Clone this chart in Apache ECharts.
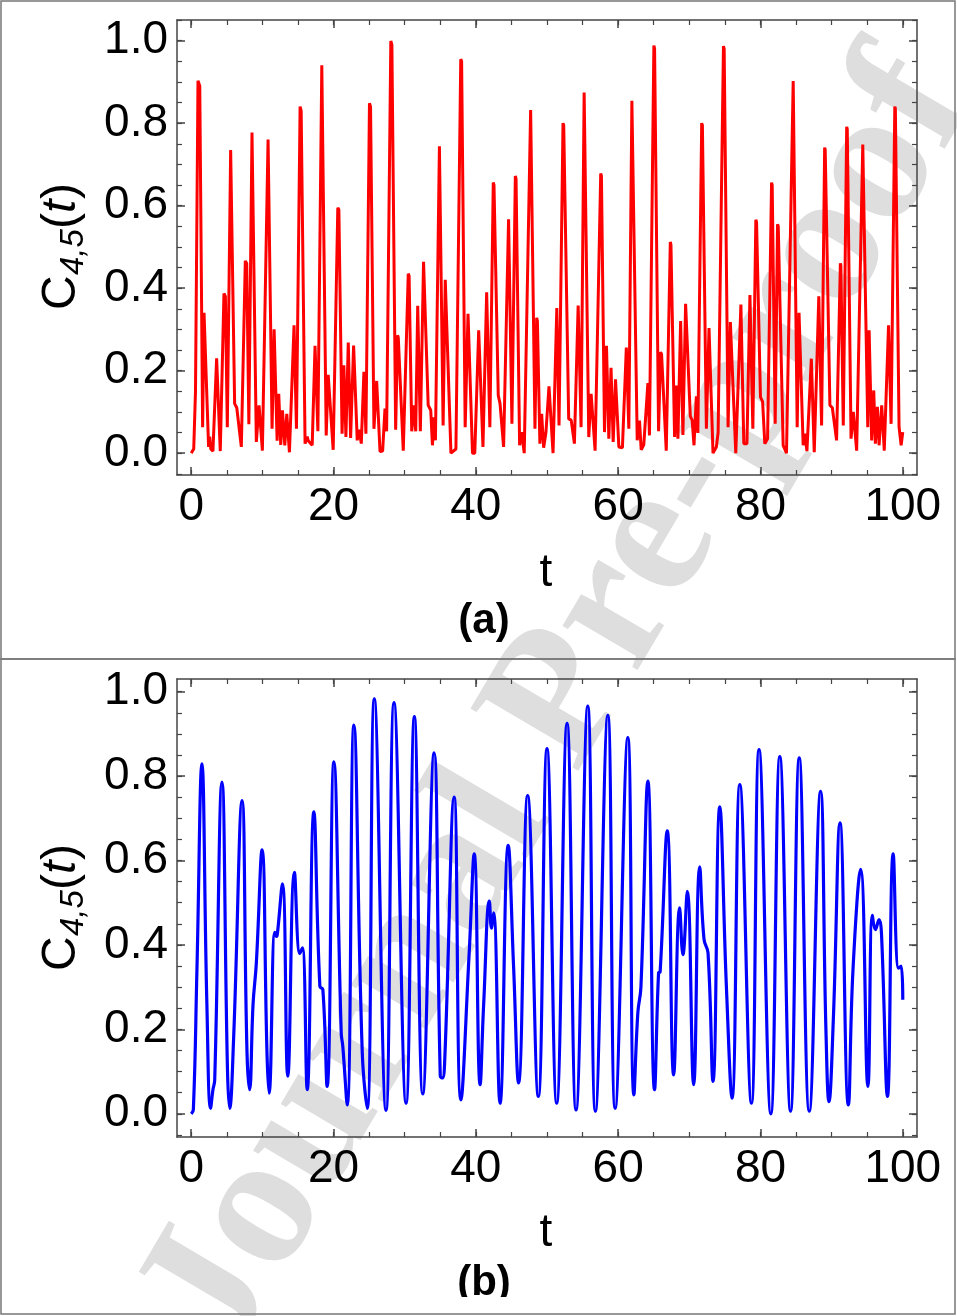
<!DOCTYPE html>
<html><head><meta charset="utf-8">
<script src="https://cdn.jsdelivr.net/npm/echarts@6.0.0/dist/echarts.min.js"></script>
<style>html,body{margin:0;padding:0;background:#fff}#c{width:957px;height:1316px}</style>
</head><body><div id="c"></div><script>
// ---- data ----
const redT = [0,0.35,0.6,0.95,1.2,1.6,1.8,1.95,2.44,2.6,2.75,3.05,3.57,4.08,4.6,4.8,5.07,5.54,6.1,6.4,7.04,7.6,7.8,8.1,8.54,9.15,9.53,10.0,10.8,10.95,11.36,11.65,11.75,12.07,12.3,12.58,12.82,13.15,13.43,13.8,14.45,14.6,14.79,15.3,15.45,16.0,16.3,16.45,17.0,17.4,17.55,17.8,18.35,18.5,18.97,19.25,19.35,19.95,20.6,20.75,21.2,21.45,21.74,22.07,22.4,22.82,23.33,23.6,23.9,24.27,24.55,25.05,25.2,25.68,26.06,26.53,26.9,27.23,27.46,28.05,28.2,28.73,29.0,29.1,29.8,30.5,30.62,30.99,31.3,31.55,31.83,32.2,32.65,32.8,33.3,33.66,33.9,34.13,34.32,34.88,35.0,35.4,35.7,35.8,36.5,37.2,37.88,38.0,38.5,38.9,39.53,39.85,40.4,40.5,41.0,41.2,41.52,41.6,41.97,42.45,42.55,43.15,43.4,43.9,44.6,44.7,45.07,45.55,45.65,46.15,46.43,46.8,47.7,47.8,48.31,48.55,48.65,49.0,49.25,49.53,49.85,50.28,50.85,51.38,51.45,51.69,52.25,52.35,53.05,53.4,53.85,54.38,54.45,54.79,55.22,55.32,55.87,56.2,56.76,57.55,57.65,58.08,58.36,58.69,59.0,59.3,59.63,60.1,60.6,61.15,61.2,61.5,61.93,62.02,62.68,63.0,63.24,63.6,64.18,64.4,65.02,65.12,65.68,65.96,66.1,66.76,67.33,67.42,67.93,68.17,68.4,68.78,69.1,69.48,69.55,70.14,70.4,70.66,70.99,71.2,71.74,71.84,72.4,72.77,73.33,73.8,74.05,74.8,74.9,75.45,75.77,76.53,77.25,77.32,77.66,78.1,78.52,78.6,78.93,79.35,79.45,80.0,80.3,80.61,81.0,81.56,81.65,82.07,82.4,82.5,83.19,83.66,84.6,84.7,85.16,85.42,85.5,86.0,86.24,86.53,87.15,87.22,87.56,88.2,88.25,88.59,89.02,89.1,89.76,90.1,90.7,91.23,91.3,91.64,92.12,92.2,92.73,93.05,93.52,94.38,94.46,95.08,95.27,95.63,95.92,96.15,96.43,96.67,97.04,97.4,98.0,98.06,98.36,98.88,98.96,99.48,99.77,100.0];
const redC = [0,0.01,0.15,0.903,0.89,0.063,0.34,0.34,0.015,0.04,0.01,0.005,0.23,0.005,0.387,0.38,0.063,0.735,0.12,0.11,0.015,0.466,0.46,0.07,0.777,0.027,0.116,0.006,0.76,0.76,0.059,0.30,0.30,0.03,0.144,0.02,0.104,0.019,0.095,0.002,0.31,0.31,0.059,0.84,0.83,0.023,0.04,0.03,0.019,0.26,0.26,0.053,0.94,0.94,0.043,0.19,0.19,0.008,0.595,0.59,0.047,0.213,0.039,0.268,0.037,0.261,0.031,0.057,0.023,0.197,0.047,0.848,0.84,0.059,0.175,0.004,0.005,0.108,0.053,0.999,0.99,0.057,0.286,0.28,0.006,0.435,0.43,0.053,0.116,0.053,0.357,0.053,0.464,0.46,0.116,0.104,0.019,0.087,0.031,0.744,0.74,0.067,0.42,0.42,0.0,0.01,0.955,0.95,0.063,0.338,0.0,0.0,0.298,0.298,0.015,0.015,0.39,0.39,0.063,0.656,0.65,0.14,0.12,0.015,0.567,0.565,0.071,0.672,0.665,0.019,0.051,0.0,0.832,0.83,0.059,0.328,0.32,0.023,0.095,0.013,0.05,0.162,0.0,0.352,0.35,0.067,0.80,0.795,0.083,0.08,0.023,0.358,0.355,0.063,0.874,0.87,0.039,0.144,0.006,0.678,0.672,0.051,0.26,0.035,0.207,0.027,0.179,0.015,0.013,0.256,0.256,0.059,0.854,0.85,0.031,0.079,0.008,0.02,0.17,0.043,0.988,0.98,0.053,0.245,0.24,0.006,0.512,0.505,0.039,0.164,0.035,0.32,0.044,0.362,0.36,0.089,0.08,0.019,0.138,0.049,0.80,0.795,0.059,0.303,0.0,0.015,0.05,0.987,0.98,0.063,0.318,0.0,0.36,0.36,0.023,0.023,0.383,0.38,0.059,0.566,0.56,0.136,0.125,0.023,0.035,0.656,0.65,0.071,0.555,0.55,0.019,0.0,0.902,0.9,0.063,0.34,0.34,0.019,0.047,0.005,0.229,0.229,0.002,0.38,0.38,0.067,0.741,0.735,0.116,0.11,0.031,0.46,0.455,0.067,0.791,0.785,0.035,0.1,0.006,0.748,0.745,0.063,0.298,0.031,0.152,0.023,0.112,0.019,0.116,0.006,0.31,0.31,0.071,0.84,0.835,0.063,0.019,0.051];
const blueT = [0,0.3,0.8,1.5,2.2,2.72,3.05,3.3,4.32,5.1,5.4,5.96,7.14,7.84,8.2,8.69,9.15,9.95,10.66,10.94,11.74,11.97,12.1,12.82,13.57,14.5,15.26,15.63,16.3,17.23,18.08,18.5,19.1,20.05,21.08,21.3,21.92,22.86,24.04,24.74,25.73,27.37,28.5,30.19,31.36,32.54,34.13,35.0,35.3,35.63,36.95,37.9,39.06,39.77,40.6,41.1,41.9,42.2,42.5,43.4,44.55,45.3,46.0,47.28,48.78,50.0,51.36,52.82,54.08,55.73,56.8,58.55,59.58,61.36,62.21,62.77,63.2,64.18,65.11,65.68,65.9,66.9,67.8,68.64,69.1,69.72,70.61,71.46,72.07,72.63,73.33,74.28,75.21,76.0,77.1,78.73,79.8,81.46,82.72,84.23,85.45,86.86,88.45,89.2,89.63,90.24,91.18,92.35,93.0,94.08,95.1,95.73,96.15,96.67,97.0,97.85,98.65,99.4,99.77,100];
const blueC = [0,0.01,0.34,0.829,0.26,0.013,0.057,0.08,0.786,0.10,0.013,0.18,0.742,0.144,0.057,0.26,0.357,0.625,0.136,0.049,0.43,0.42,0.425,0.545,0.089,0.572,0.38,0.393,0.057,0.715,0.302,0.294,0.065,0.834,0.191,0.16,0.021,0.921,0.144,0.013,0.983,0.008,0.974,0.025,0.941,0.047,0.855,0.089,0.085,0.128,0.75,0.033,0.38,0.616,0.069,0.26,0.504,0.44,0.476,0.025,0.636,0.35,0.073,0.754,0.041,0.865,0.025,0.925,0.009,0.966,0.006,0.944,0.013,0.891,0.045,0.24,0.3,0.788,0.057,0.334,0.336,0.67,0.092,0.488,0.377,0.527,0.069,0.585,0.413,0.381,0.077,0.727,0.302,0.037,0.78,0.025,0.863,0.0,0.846,0.006,0.843,0.006,0.764,0.2,0.029,0.223,0.689,0.021,0.34,0.579,0.065,0.47,0.436,0.46,0.43,0.041,0.616,0.345,0.35,0.27];
const xTickLabels = [0,20,40,60,80,100];
const xMinorTicks = [0,5,10,15,20,25,30,35,40,45,50,55,60,65,70,75,80,85,90,95,100];
const yTickLabels = [0,0.2,0.4,0.6,0.8,1.0];
const yMinorTicks = [-0.05,0,0.05,0.1,0.15,0.2,0.25,0.3,0.35,0.4,0.45,0.5,0.55,0.6,0.65,0.7,0.75,0.8,0.85,0.9,0.95,1.0,1.05];
const panelLabels = ['(a)','(b)'];
const xName = 't';

// ---- layout ----
const FONT = '"Liberation Sans", Arial, sans-serif';
const FRAME = '#444';
const panels = [
  {top:20, height:455, ymin:-0.053, ymax:1.05, ycenter:245, tY:573, labY:621},
  {top:679, height:458, ymin:-0.055, ymax:1.03, ycenter:906, tY:1233, labY:1283}
];

const chart = echarts.init(document.getElementById('c'), null, {renderer:'canvas'});
const grids = [], xAxes = [], yAxes = [];
panels.forEach((p, g) => {
  grids.push({left:177, top:p.top, width:740, height:p.height, containLabel:false});
  const base = {gridIndex:g, type:'value', min:-2, max:102, splitLine:{show:false}};
  const lineOn = {show:true, onZero:false, lineStyle:{color:FRAME, width:1.5}};
  const lineOff = {show:false, onZero:false};
  xAxes.push(Object.assign({}, base, {position:'bottom', axisLine:lineOn,
    axisTick:{show:true, inside:true, length:8, customValues:xTickLabels, lineStyle:{color:FRAME, width:1.5}},
    axisLabel:{show:true, customValues:xTickLabels, fontSize:46, color:'#000', margin:9, fontFamily:FONT}}));
  xAxes.push(Object.assign({}, base, {position:'bottom', axisLine:lineOff,
    axisTick:{show:true, inside:true, length:5, customValues:xMinorTicks, lineStyle:{color:FRAME, width:1.2}},
    axisLabel:{show:false}}));
  xAxes.push(Object.assign({}, base, {position:'top', axisLine:lineOn,
    axisTick:{show:true, inside:true, length:8, customValues:xTickLabels, lineStyle:{color:FRAME, width:1.5}},
    axisLabel:{show:false}}));
  xAxes.push(Object.assign({}, base, {position:'top', axisLine:lineOff,
    axisTick:{show:true, inside:true, length:5, customValues:xMinorTicks, lineStyle:{color:FRAME, width:1.2}},
    axisLabel:{show:false}}));
  const ybase = {gridIndex:g, type:'value', min:p.ymin, max:p.ymax, splitLine:{show:false}};
  yAxes.push(Object.assign({}, ybase, {position:'left', axisLine:lineOn,
    axisTick:{show:true, inside:true, length:8, customValues:yTickLabels, lineStyle:{color:FRAME, width:1.5}},
    axisLabel:{show:true, customValues:yTickLabels, fontSize:46, color:'#000', margin:9, fontFamily:FONT,
      formatter:v => Number(v).toFixed(1)}}));
  yAxes.push(Object.assign({}, ybase, {position:'left', axisLine:lineOff,
    axisTick:{show:true, inside:true, length:5, customValues:yMinorTicks, lineStyle:{color:FRAME, width:1.2}},
    axisLabel:{show:false}}));
  yAxes.push(Object.assign({}, ybase, {position:'right', axisLine:lineOn,
    axisTick:{show:true, inside:true, length:8, customValues:yTickLabels, lineStyle:{color:FRAME, width:1.5}},
    axisLabel:{show:false}}));
  yAxes.push(Object.assign({}, ybase, {position:'right', axisLine:lineOff,
    axisTick:{show:true, inside:true, length:5, customValues:yMinorTicks, lineStyle:{color:FRAME, width:1.2}},
    axisLabel:{show:false}}));
});

const zip = (a, b) => a.map((t, i) => [t, b[i]]);
const series = [
  {type:'line', xAxisIndex:0, yAxisIndex:0, data:zip(redT, redC), showSymbol:false, smooth:false,
   lineStyle:{color:'#ff0000', width:3}, z:5},
  {type:'line', xAxisIndex:4, yAxisIndex:4, data:zip(blueT, blueC), showSymbol:false, smooth:0.45,
   lineStyle:{color:'#0000ff', width:3.2}, z:5}
];

function yName(cx, cy) {
  return {type:'group', x:cx, y:cy, rotation:Math.PI/2, z:100, children:[
    {type:'text', x:-65, y:0, style:{text:'C', font:'48px ' + FONT, fill:'#000', align:'left', verticalAlign:'middle'}},
    {type:'text', x:-30, y:12, style:{text:'4,5', font:'italic 33px ' + FONT, fill:'#000', align:'left', verticalAlign:'middle'}},
    {type:'text', x:16, y:0, style:{text:'(', font:'48px ' + FONT, fill:'#000', align:'left', verticalAlign:'middle'}},
    {type:'text', x:32, y:0, style:{text:'t', font:'italic 48px ' + FONT, fill:'#000', align:'left', verticalAlign:'middle'}},
    {type:'text', x:46, y:0, style:{text:')', font:'48px ' + FONT, fill:'#000', align:'left', verticalAlign:'middle'}}
  ]};
}

const graphic = [
  {type:'text', x:560, y:705, rotation:59.5*Math.PI/180, z:-10,
   style:{text:'Journal Pre-proof', font:'bold 190px "Liberation Serif", "Times New Roman", serif', fill:'#dedede', align:'center', verticalAlign:'middle'}},
  {type:'rect', shape:{x:1, y:1, width:954, height:658}, style:{fill:'none', stroke:'#777', lineWidth:1.5}, z:100},
  {type:'rect', shape:{x:1, y:659, width:954, height:655}, style:{fill:'none', stroke:'#777', lineWidth:1.5}, z:100}
];
panels.forEach((p, g) => {
  graphic.push(yName(62, p.ycenter));
  graphic.push({type:'text', x:546, y:p.tY, z:100, style:{text:xName, font:'46px ' + FONT, fill:'#000', align:'center', verticalAlign:'middle'}});
  graphic.push({type:'text', x:484, y:p.labY, z:100, style:{text:panelLabels[g], font:'bold 42px ' + FONT, fill:'#000', align:'center', verticalAlign:'middle'}});
});
graphic.push({type:'rect', shape:{x:430, y:1297, width:110, height:16}, style:{fill:'#fff'}, z:110});

chart.setOption({
  animation:false,
  backgroundColor:'#fff',
  grid:grids, xAxis:xAxes, yAxis:yAxes, series:series, graphic:graphic
});
</script></body></html>
